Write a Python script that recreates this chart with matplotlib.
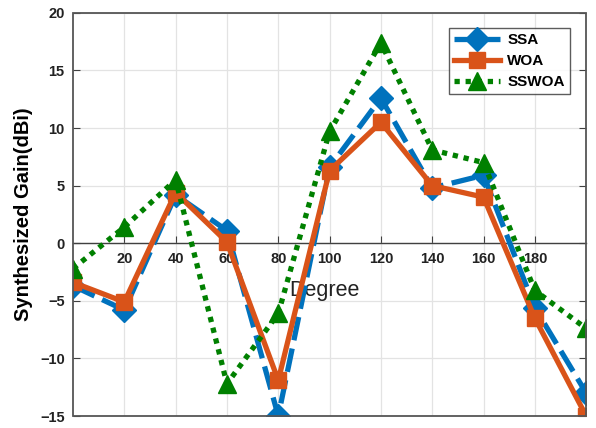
import matplotlib
matplotlib.use("Agg")
import matplotlib.pyplot as plt
from matplotlib.patches import Rectangle

degrees = [0, 20, 40, 60, 80, 100, 120, 140, 160, 180, 200]
ssa = [-3.7, -5.8, 4.2, 1.1, -15.0, 6.6, 12.6, 4.8, 5.9, -5.6, -13.0]
woa = [-3.4, -5.1, 4.4, 0.1, -11.9, 6.3, 10.5, 5.0, 4.0, -6.5, -15.0]
sswoa = [-2.2, 1.4, 5.5, -12.2, -6.1, 9.7, 17.4, 8.1, 7.0, -4.1, -7.4]
xticks = [20, 40, 60, 80, 100, 120, 140, 160, 180]
yticks = [-15, -10, -5, 0, 5, 10, 15, 20]

plt.rcParams['font.family'] = ['Liberation Sans', 'DejaVu Sans']

fig = plt.figure(figsize=(5.96, 4.28), dpi=100)
ax = fig.add_axes([0.1225, 0.028, 0.861, 0.942])

ax.plot(degrees, ssa, color='#0072BD', lw=3.8, dashes=(4.5, 1.6), marker='D',
        markersize=12, label='SSA', zorder=3)
ax.plot(degrees, woa, color='#D95319', lw=3.8, marker='s',
        markersize=11, label='WOA', zorder=4)
ax.plot(degrees, sswoa, color='#008000', lw=3.8, dashes=(1, 1.1), marker='^',
        markersize=13, label='SSWOA', zorder=5)

ax.set_xlim(0, 200)
ax.set_ylim(-15, 20)
ax.set_xticks(xticks)
ax.set_yticks(yticks)
ax.grid(True, color='#e3e3e3', lw=0.9, zorder=0)
ax.set_axisbelow(True)

for s in ['top', 'right', 'left']:
    ax.spines[s].set_visible(False)
ax.spines['bottom'].set_position(('data', 0))
ax.spines['bottom'].set_color('#404040')
ax.spines['bottom'].set_linewidth(1.0)
ax.add_patch(Rectangle((0, 0), 1, 1, transform=ax.transAxes, fill=False,
                       edgecolor='#555555', lw=1.3, clip_on=False, zorder=6))

ax.tick_params(axis='x', direction='in', length=5, color='#404040', pad=6,
               labelsize=10.5)
ax.tick_params(axis='y', direction='in', length=5, left=True, right=True,
               color='#404040', labelsize=10.5, pad=6)
for lab in ax.get_xticklabels() + ax.get_yticklabels():
    lab.set_fontweight('bold')
    lab.set_color('#222222')

ax.set_ylabel('Synthesized Gain(dBi)', fontsize=14.5, fontweight='bold',
              labelpad=5)
ax.text(98, -4.1, 'Degree', fontsize=15.5, ha='center', va='center',
        color='#222222', zorder=2)

leg = ax.legend(loc='upper right', bbox_to_anchor=(0.969, 0.963),
                borderaxespad=0, frameon=True, fancybox=False,
                edgecolor='#333333', handlelength=3.0, borderpad=0.35,
                labelspacing=0.45, handletextpad=0.5,
                prop={'weight': 'bold', 'size': 11})
leg.get_frame().set_linewidth(1.0)
leg.set_zorder(10)

fig.savefig('out.png', dpi=100)
